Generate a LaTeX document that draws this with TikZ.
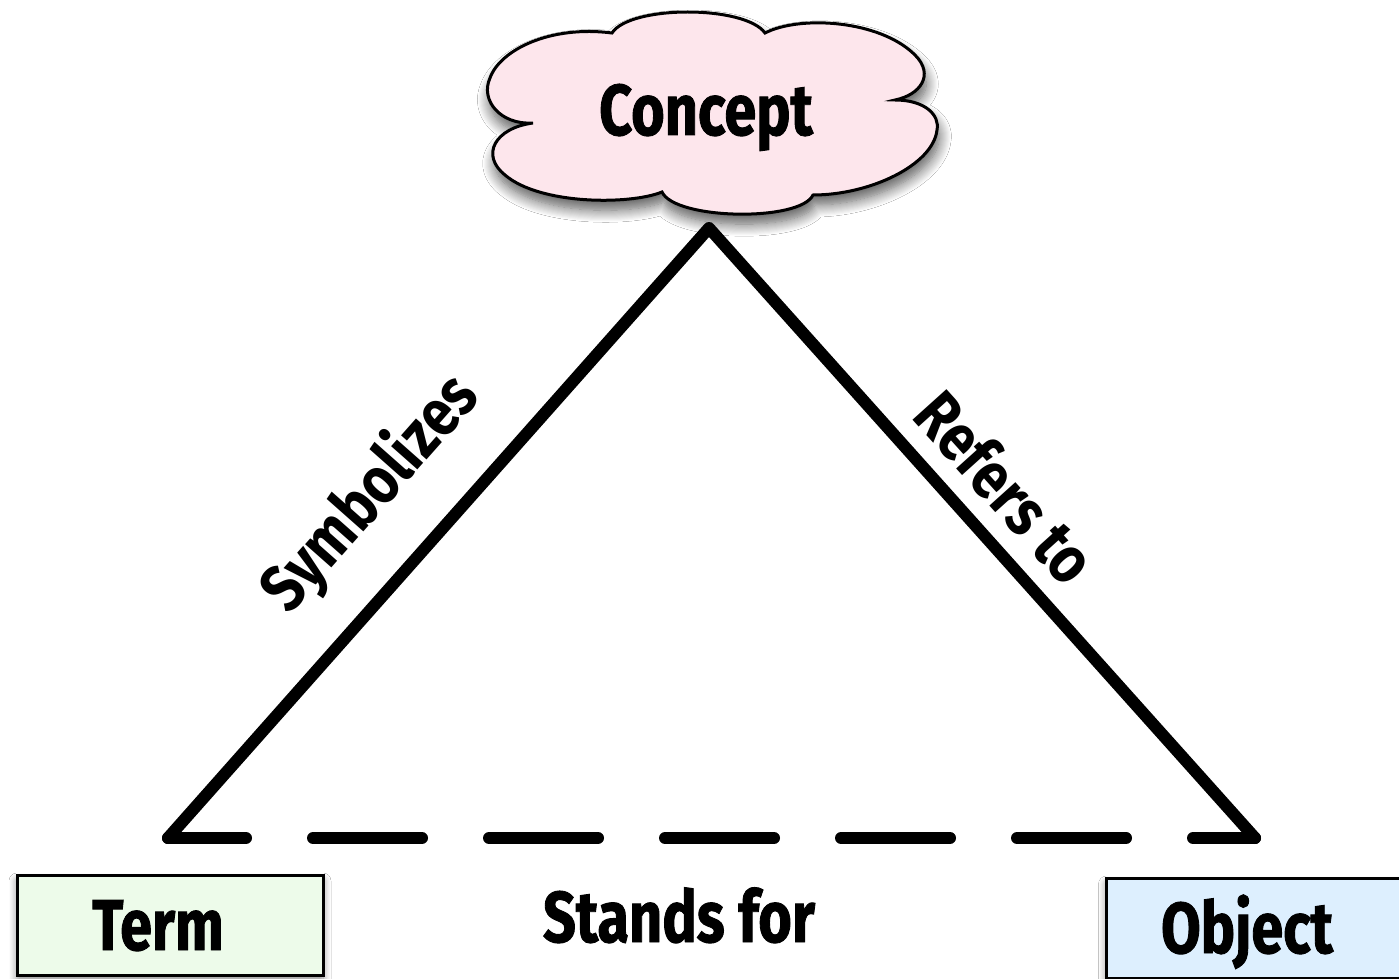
\documentclass[tikz,border=0pt]{standalone}
\usepackage{fontspec}
\newfontfamily\lblfont{Fira Sans}[FakeStretch=0.8, FakeBold=1.2]
\newfontfamily\sidefont{Fira Sans}[FakeStretch=0.85]
\usetikzlibrary{shadows.blur}
\definecolor{cloudpink}{HTML}{FDE6EC}
\definecolor{termgreen}{HTML}{EDFBEA}
\definecolor{objblue}{HTML}{DDEFFE}
\begin{document}
\begin{tikzpicture}[x=1pt,y=-1pt,
  lbl/.style={font=\lblfont\bfseries\fontsize{72}{72}\selectfont, inner sep=0pt},
  sidelbl/.style={font=\sidefont\bfseries\fontsize{66}{66}\selectfont, inner sep=0pt},
  side/.style={line width=12pt, line cap=round, line join=round},
  cloudshadow/.style={blur shadow={shadow xshift=2pt, shadow yshift=-10pt, shadow blur steps=12, shadow opacity=65, shadow blur radius=12pt}},
  softshadow/.style={blur shadow={shadow xshift=0pt, shadow yshift=-6pt, shadow blur steps=10, shadow opacity=45, shadow blur radius=8pt}},
  labelbox/.style={draw, line width=3pt, minimum width=#1, minimum height=100pt,
     inner sep=0pt, text height=50pt, text depth=0pt, softshadow,
     font=\lblfont\bfseries\fontsize{72}{72}\selectfont}]
\useasboundingbox (0,0) rectangle (1399,979);
\clip (0,0) rectangle (1399,979);
\fill[white] (0,0) rectangle (1399,979);

% cloud
\path[draw, line width=3pt, fill=cloudpink, cloudshadow]
  (533,123) .. controls (500,125) and (480,100) .. (490,78)
  .. controls (500,50) and (550,25) .. (612,33)
  .. controls (630,5) and (745,5) .. (765,33)
  .. controls (800,15) and (880,20) .. (915,55)
  .. controls (935,75) and (920,95) .. (895,100)
  .. controls (925,100) and (940,115) .. (937,130)
  .. controls (933,165) and (870,195) .. (813,195)
  .. controls (800,222) and (675,220) .. (662,192)
  .. controls (630,205) and (540,205) .. (505,175)
  .. controls (480,155) and (495,128) .. (533,123) -- cycle;
\node[lbl, anchor=base] (concept) at (706,135) {Concept};

% triangle
\coordinate (apex) at (709,228);
\coordinate (bl) at (168,838);
\coordinate (br) at (1255,838);
\draw[side] (bl) -- (apex) -- (br);
\draw[side, dash pattern=on 109pt off 67pt, dash phase=31pt] (bl) -- (br);

\node[sidelbl, rotate=48.5] (symb) at (371,494) {Symbolizes};
\node[sidelbl, rotate=-48] (refers) at (1006,487) {Refers to};
\node[lbl, anchor=base] (stands) at (679,942) {Stands for};

% boxes
\node[labelbox=306pt, fill=termgreen] (term) at (170,925) {\hspace*{-24pt}Term};
\node[labelbox=303pt, fill=objblue] (object) at (1258,928) {\hspace*{-22pt}Object};
\end{tikzpicture}
\end{document}
